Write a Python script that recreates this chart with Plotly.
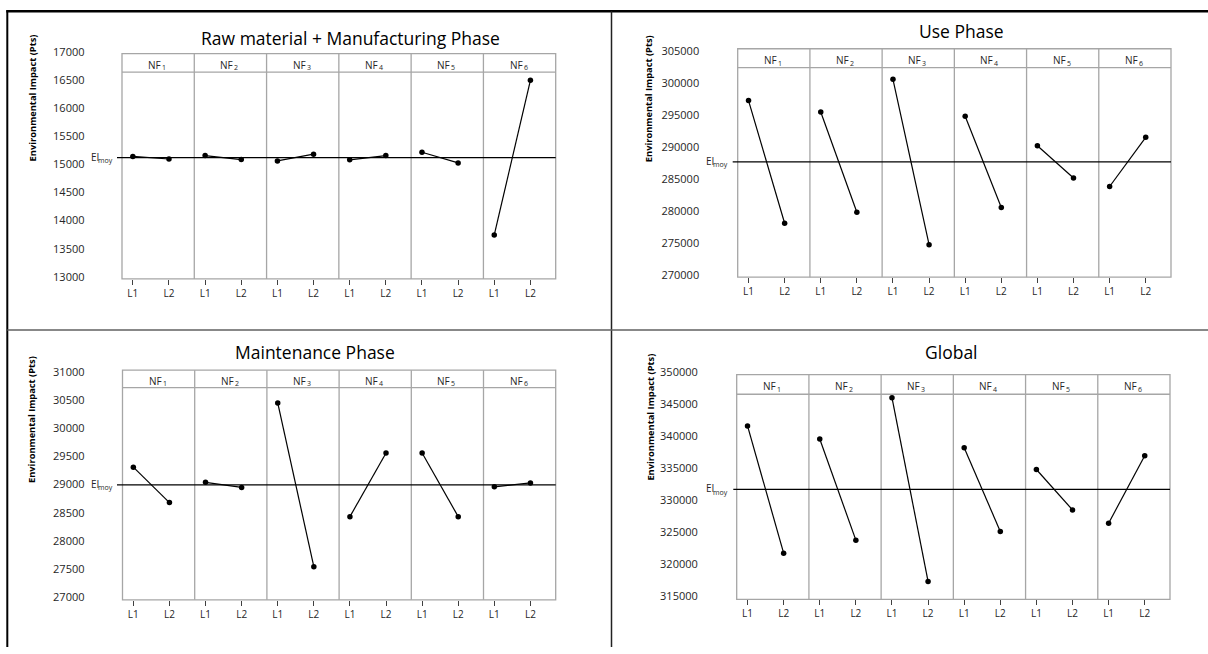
import plotly.graph_objects as go

# ---------------- data ----------------
factor_ids = ["1", "2", "3", "4", "5", "6"]          # NF subscripts
levels = ["L1", "L2"]

titles = ["Raw material + Manufacturing Phase", "Use Phase",
          "Maintenance Phase", "Global"]

raw_L1 = [15140, 15155, 15060, 15080, 15215, 13745]
raw_L2 = [15095, 15085, 15180, 15155, 15025, 16495]

use_L1 = [297320, 295550, 300630, 294880, 290265, 283910]
use_L2 = [278180, 279900, 274830, 280620, 285235, 291590]

maint_L1 = [29310, 29040, 30450, 28430, 29560, 28960]
maint_L2 = [28680, 28950, 27540, 29560, 28430, 29030]

glob_L1 = [341570, 339540, 345980, 338170, 334780, 326410]
glob_L2 = [321740, 323770, 317330, 325130, 328480, 336910]

ei_moy = [15120, 287745, 28995, 331680]

y_min = [13000, 270000, 27000, 315000]
y_max = [17000, 305000, 31000, 350000]
y_step = [500, 5000, 500, 5000]

ylabel = "Environmental Impact (Pts)"

# ---------------- layout geometry (pixels) ----------------
W, H = 1208, 654
def px(x):
    return x / W
def py(y):
    return 1 - y / H

panels = [
    dict(left=122, right=555.7, top=46.7, strip=65.7, bottom=277.3,
         lab_top=44.8, lab_bot=275.2, title=(350, 31), ytitle=(32.5, 92),
         tick_right=86, ei_right=114.3, line_start=117),
    dict(left=737.7, right=1171, top=41.7, strip=61, bottom=275.5,
         lab_top=44.3, lab_bot=274, title=(961, 23.5), ytitle=(649.3, 93),
         tick_right=700.7, ei_right=729.3, line_start=732.7),
    dict(left=122.5, right=555.7, top=370.7, strip=388.5, bottom=605.7,
         lab_top=372.5, lab_bot=603, title=(315, 352), ytitle=(31, 421.7),
         tick_right=86, ei_right=114.3, line_start=117),
    dict(left=736.7, right=1170, top=375.3, strip=395.3, bottom=605.3,
         lab_top=372.3, lab_bot=602.3, title=(951.7, 352.5), ytitle=(650.7, 418.5),
         tick_right=699.3, ei_right=729, line_start=733.3),
]

series = [(raw_L1, raw_L2), (use_L1, use_L2), (maint_L1, maint_L2), (glob_L1, glob_L2)]

FONT = "Open Sans"
FRAME = "#a6a6a6"
TXT = "#262626"

fig = go.Figure()
shapes = []
annotations = []
layout = {}

nf = len(factor_ids)
tickvals = [2 * f + l for f in range(nf) for l in range(len(levels))]
ticktext = [levels[l] for f in range(nf) for l in range(len(levels))]

for i, (p, (s1, s2)) in enumerate(zip(panels, series)):
    n = i + 1
    xa = "x" if n == 1 else f"x{n}"
    ya = "y" if n == 1 else f"y{n}"
    for f in range(nf):
        fig.add_trace(go.Scatter(
            x=[2 * f, 2 * f + 1], y=[s1[f], s2[f]],
            mode="lines+markers", xaxis=xa, yaxis=ya,
            line=dict(color="black", width=1.2),
            marker=dict(color="black", size=5.5),
            showlegend=False, hoverinfo="x+y"))

    span = y_max[i] - y_min[i]
    eps = span * 0.0004
    layout[f"xaxis{'' if n == 1 else n}"] = dict(
        domain=[px(p["left"]), px(p["right"])], range=[-0.3, 11.7],
        anchor="free", position=py(p["bottom"]),
        tickmode="array", tickvals=tickvals, ticktext=ticktext,
        ticks="outside", ticklen=5, tickwidth=1, tickcolor="#404040",
        showline=False, showgrid=False, zeroline=False,
        tickfont=dict(family=FONT, size=10, color=TXT), fixedrange=True)
    layout[f"yaxis{'' if n == 1 else n}"] = dict(
        domain=[py(p["lab_bot"]), py(p["lab_top"])],
        range=[y_min[i] - eps, y_max[i] + eps],
        tick0=y_min[i], dtick=y_step[i], tickformat="d",
        anchor="free", position=px(p["tick_right"] - 1.5),
        ticks="", showline=False, showgrid=False, zeroline=False,
        tickfont=dict(family=FONT, size=11, color=TXT), fixedrange=True)

    # frame
    shapes.append(dict(type="rect", xref="paper", yref="paper",
                       x0=px(p["left"]), x1=px(p["right"]),
                       y0=py(p["bottom"]), y1=py(p["top"]),
                       line=dict(color=FRAME, width=1.3), layer="below"))
    shapes.append(dict(type="line", xref="paper", yref="paper",
                       x0=px(p["left"]), x1=px(p["right"]),
                       y0=py(p["strip"]), y1=py(p["strip"]),
                       line=dict(color=FRAME, width=1.3), layer="below"))
    for k in range(1, nf):
        shapes.append(dict(type="line", xref=xa, yref="paper",
                           x0=2 * k - 0.3, x1=2 * k - 0.3,
                           y0=py(p["bottom"]), y1=py(p["top"]),
                           line=dict(color=FRAME, width=1.3), layer="below"))
    # mean line
    shapes.append(dict(type="line", xref="paper", yref=ya,
                       x0=px(p["line_start"]), x1=px(p["right"]),
                       y0=ei_moy[i], y1=ei_moy[i],
                       line=dict(color="black", width=1.3)))
    # strip labels NF with subscript
    ys = py((p["top"] + p["strip"]) / 2 + 2)
    for f, sid in enumerate(factor_ids):
        annotations.append(dict(xref=xa, yref="paper", x=2 * f + 0.7, y=ys,
                                text="NF", showarrow=False, xshift=4,
                                xanchor="right", yanchor="middle", borderpad=0,
                                font=dict(family=FONT, size=10, color=TXT)))
        annotations.append(dict(xref=xa, yref="paper", x=2 * f + 0.7, y=ys,
                                text=sid, showarrow=False, xshift=3, yshift=-3,
                                xanchor="left", yanchor="middle", borderpad=0,
                                font=dict(family=FONT, size=7, color=TXT)))
    # EI_moy label
    annotations.append(dict(xref="paper", yref=ya, x=px(p["ei_right"]),
                            y=ei_moy[i], text="moy", showarrow=False,
                            xanchor="right", yanchor="middle", yshift=-3,
                            borderpad=0,
                            font=dict(family=FONT, size=7, color=TXT)))
    annotations.append(dict(xref="paper", yref=ya, x=px(p["ei_right"]),
                            y=ei_moy[i], text="EI", showarrow=False,
                            xanchor="right", yanchor="middle", xshift=-14,
                            yshift=1, borderpad=0,
                            font=dict(family=FONT, size=10, color=TXT)))
    # title
    annotations.append(dict(xref="paper", yref="paper",
                            x=px(p["title"][0]), y=py(p["title"][1]),
                            text=titles[i], showarrow=False,
                            xanchor="center", yanchor="middle",
                            font=dict(family=FONT, size=17.5, color="black")))
    # y title
    annotations.append(dict(xref="paper", yref="paper",
                            x=px(p["ytitle"][0]), y=py(p["ytitle"][1]),
                            text=f"<b>{ylabel}</b>", showarrow=False,
                            textangle=-90, xanchor="center", yanchor="middle",
                            font=dict(family=FONT, size=9.3, color="black")))

# outer borders
shapes += [
    dict(type="line", xref="paper", yref="paper", x0=px(6.3), x1=1,
         y0=py(3.3), y1=py(3.3), line=dict(color="black", width=2.5)),
    dict(type="line", xref="paper", yref="paper", x0=px(7.3), x1=px(7.3),
         y0=0, y1=py(2.2), line=dict(color="black", width=2)),
    dict(type="line", xref="paper", yref="paper", x0=px(611.5), x1=px(611.5),
         y0=0, y1=py(3.3), line=dict(color="#222222", width=1.5)),
    dict(type="line", xref="paper", yref="paper", x0=px(7.3), x1=1,
         y0=py(329.5), y1=py(329.5), line=dict(color="#606060", width=1.5)),
]

fig.update_layout(
    width=W, height=H, autosize=False,
    margin=dict(l=0, r=0, t=0, b=0),
    paper_bgcolor="white", plot_bgcolor="white",
    shapes=shapes, annotations=annotations,
    showlegend=False, font=dict(family=FONT), **layout)

fig.write_html("out.html", config={"displayModeBar": False},
               post_script="document.body.style.margin='0';document.body.style.overflow='hidden';")
